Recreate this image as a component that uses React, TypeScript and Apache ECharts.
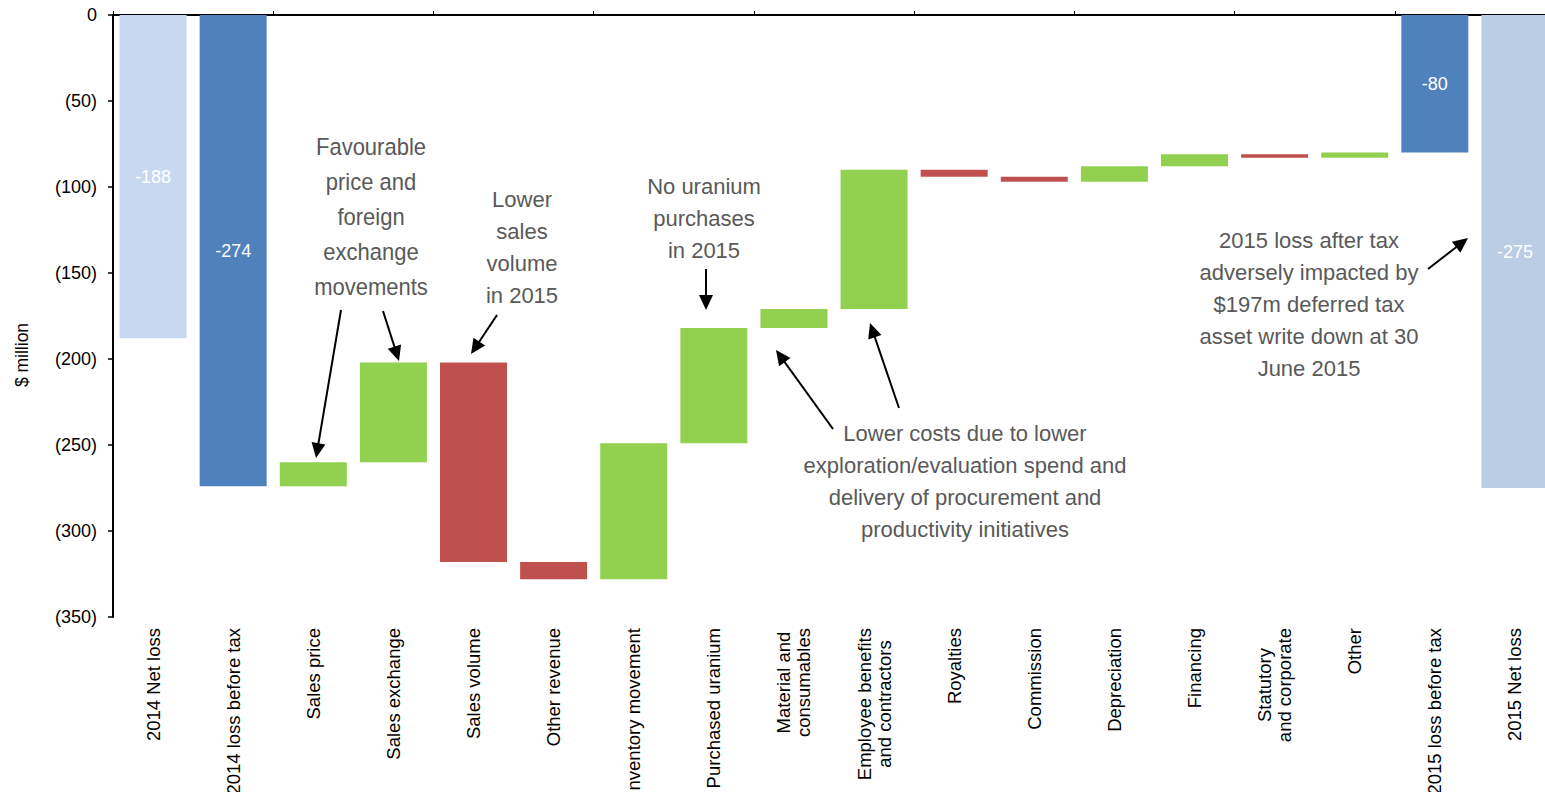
import React, { useEffect, useRef } from "react";
import * as echarts from "echarts";

const categories = [
  "2014 Net loss",
  "2014 loss before tax",
  "Sales price",
  "Sales exchange",
  "Sales volume",
  "Other revenue",
  "Inventory movement",
  "Purchased uranium",
  "Material and\nconsumables",
  "Employee benefits\nand contractors",
  "Royalties",
  "Commission",
  "Depreciation",
  "Financing",
  "Statutory\nand corporate",
  "Other",
  "2015 loss before tax",
  "2015 Net loss",
];

// Totals (bars hanging from zero), null where the bar is a change
const totals: (number | null)[] = [
  -188, -274, null, null, null, null, null, null, null, null, null, null, null, null, null, null, -80, -275,
];
// Changes, $ million (positive = favourable, green; negative = unfavourable, red)
const changes: (number | null)[] = [
  null, null, 14, 58, -116, -10, 79, 67, 11, 81, -4, -3, 9, 7, -2, 3, null, null,
];
const totalColors = ["#C6D9F0", "#4F81BD", "#4F81BD", "#B9CDE5"];
const yTicks = [0, 50, 100, 150, 200, 250, 300, 350];
const yTickLabels = ["0", "(50)", "(100)", "(150)", "(200)", "(250)", "(300)", "(350)"];

const FONT = "'Liberation Sans', Arial, sans-serif";
const NOTE = "#595959";

function arrow(x1: number, y1: number, x2: number, y2: number) {
  const dx = x2 - x1;
  const dy = y2 - y1;
  const len = Math.sqrt(dx * dx + dy * dy);
  const ux = dx / len;
  const uy = dy / len;
  const L = 15;
  const W = 7;
  const bx = x2 - ux * L;
  const by = y2 - uy * L;
  const px = -uy;
  const py = ux;
  return [
    {
      type: "line",
      shape: { x1, y1, x2: bx + ux * 2, y2: by + uy * 2 },
      style: { stroke: "#000", lineWidth: 2 },
    },
    {
      type: "polygon",
      shape: {
        points: [
          [x2, y2],
          [bx + px * W, by + py * W],
          [bx - px * W, by - py * W],
        ],
      },
      style: { fill: "#000" },
    },
  ];
}

function note(cx: number, top: number, text: string, lineHeight: number, sy = 1) {
  return {
    type: "text",
    x: cx,
    y: top,
    scaleY: sy,
    style: {
      text,
      fill: NOTE,
      fontSize: 22,
      fontFamily: FONT,
      align: "center",
      verticalAlign: "top",
      textAlign: "center",
      textVerticalAlign: "top",
      lineHeight,
    },
  };
}

export default function App() {
  const ref = useRef<HTMLDivElement>(null);

  useEffect(() => {
    if (!ref.current) return;
    const chart = echarts.init(ref.current, undefined, { renderer: "svg" });

    const baseData: any[] = [];
    const barData: any[] = [];
    let level = 0;
    let totalCount = 0;
    categories.forEach((_, i) => {
      const t = totals[i];
      if (t !== null && t !== undefined) {
        level = t;
        baseData.push(0);
        barData.push({
          value: -t,
          itemStyle: { color: totalColors[totalCount] },
          label: {
            show: true,
            position: "inside",
            formatter: String(t),
            color: "#fff",
            fontSize: 18,
            fontFamily: FONT,
          },
        });
        totalCount++;
      } else {
        const c = changes[i] as number;
        const start = level;
        const end = level + c;
        level = end;
        baseData.push(Math.min(-start, -end));
        barData.push({
          value: Math.abs(c),
          itemStyle: { color: c >= 0 ? "#92D050" : "#C0504D" },
        });
      }
    });

    const graphics: any[] = [
      {
        type: "text",
        x: 22,
        y: 355,
        rotation: Math.PI / 2,
        style: {
          text: "$ million",
          fill: "#000",
          fontSize: 17.5,
          fontFamily: FONT,
          textAlign: "center",
          textVerticalAlign: "middle",
          align: "center",
          verticalAlign: "middle",
        },
      },
      note(371, 129.5, "Favourable\nprice and\nforeign\nexchange\nmovements", 32, 35 / 32),
      note(522, 183, "Lower\nsales\nvolume\nin 2015", 32),
      note(704, 170, "No uranium\npurchases\nin 2015", 32),
      note(
        965,
        417,
        "Lower costs due to lower\nexploration/evaluation spend and\ndelivery of procurement and\nproductivity initiatives",
        32
      ),
      note(
        1309,
        224,
        "2015 loss after tax\nadversely impacted by\n$197m deferred tax\nasset write down at 30\nJune 2015",
        32
      ),
      ...arrow(341, 310, 316, 458),
      ...arrow(383, 311, 399, 361),
      ...arrow(497, 315, 471, 354),
      ...arrow(706, 269, 706, 310),
      ...arrow(833, 429, 776, 350),
      ...arrow(899, 408, 870, 323),
      ...arrow(1428, 269, 1468, 238),
    ];

    chart.setOption({
      animation: false,
      backgroundColor: "#fff",
      textStyle: { fontFamily: FONT },
      grid: {
        left: 113,
        top: 15,
        right: 5,
        bottom: 175,
        containLabel: false,
        outerBoundsMode: "none",
      },
      xAxis: [
        {
          type: "category",
          data: categories,
          position: "bottom",
          axisLine: { show: false },
          axisTick: { show: false },
          axisLabel: {
            rotate: 90,
            margin: 11,
            interval: 0,
            color: "#000",
            fontSize: 18.5,
            fontFamily: FONT,
            formatter: (v: string) =>
              v
                .split("\n")
                .map((l) => `{c|${l}}`)
                .join("\n"),
            rich: {
              c: { align: "center", fontSize: 18.5, fontFamily: FONT, color: "#000", lineHeight: 20 },
            },
          },
        },
        {
          type: "category",
          data: categories,
          position: "top",
          axisLine: { show: true, onZero: false, lineStyle: { color: "#000", width: 2 } },
          axisTick: { show: true, length: 4, lineStyle: { color: "#000", width: 1 } },
          axisLabel: { show: false },
        },
      ],
      yAxis: {
        type: "value",
        inverse: true,
        min: 0,
        max: 350,
        interval: 50,
        axisLine: { show: true, lineStyle: { color: "#000", width: 2 } },
        axisTick: { show: true, length: 5, lineStyle: { color: "#000", width: 1.5 } },
        splitLine: { show: false },
        axisLabel: {
          margin: 16,
          color: "#000",
          fontSize: 18,
          fontFamily: FONT,
          formatter: (v: number) => {
            const k = yTicks.indexOf(v);
            return k >= 0 ? yTickLabels[k] : String(v);
          },
        },
      },
      series: [
        {
          type: "bar",
          stack: "w",
          data: baseData,
          itemStyle: { color: "transparent" },
          barWidth: 67,
          silent: true,
        },
        {
          type: "bar",
          stack: "w",
          data: barData,
          barWidth: 67,
        },
      ],
      graphic: graphics,
    });

    return () => chart.dispose();
  }, []);

  return (
    <div
      style={{
        position: "fixed",
        left: 0,
        top: 0,
        width: 1545,
        height: 792,
        overflow: "hidden",
        background: "#fff",
      }}
    >
      <div ref={ref} style={{ width: 1560, height: 792 }} />
    </div>
  );
}
